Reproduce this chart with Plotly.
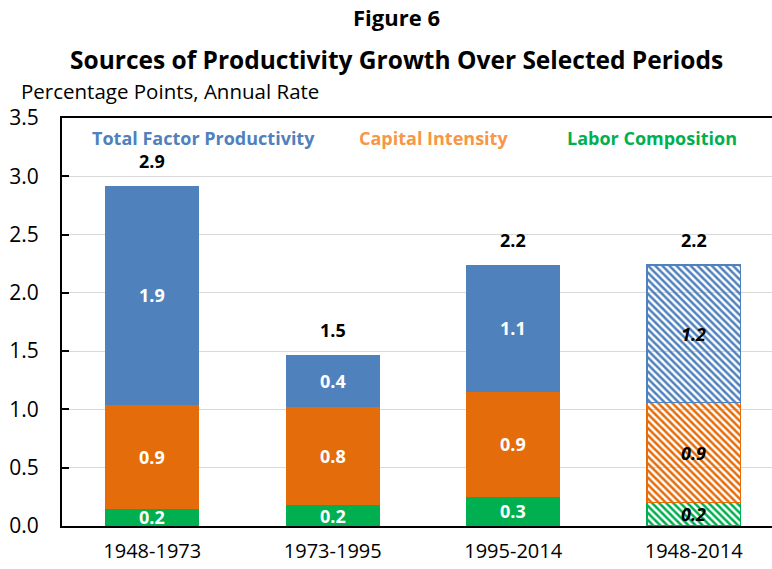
import plotly.graph_objects as go

periods = ["1948-1973", "1973-1995", "1995-2014", "1948-2014"]
labor = [0.15, 0.18, 0.25, 0.20]
capital = [0.89, 0.84, 0.90, 0.86]
tfp = [1.88, 0.45, 1.09, 1.18]
labor_lbl = ["0.2", "0.2", "0.3", "0.2"]
capital_lbl = ["0.9", "0.8", "0.9", "0.9"]
tfp_lbl = ["1.9", "0.4", "1.1", "1.2"]
total_lbl = ["2.9", "1.5", "2.2", "2.2"]
series_names = ["Labor Composition", "Capital Intensity", "Total Factor Productivity"]

FONT = "Open Sans"
colors = ["#00B050", "#E46C0A", "#4F81BD"]
hatched = [False, False, False, True]

# plot area in pixels
L, R, T, B = 62, 772, 118, 526
W, H = R - L, B - T


def px(x):
    return (x - L) / W


def py(y):
    return (B - y) / H


fig = go.Figure()
series = [labor, capital, tfp]
labels = [labor_lbl, capital_lbl, tfp_lbl]
for name, vals, col in zip(series_names, series, colors):
    fig.add_trace(go.Bar(
        x=periods, y=vals, name=name, width=0.52,
        marker=dict(
            color=[col] * len(periods),
            line=dict(color=col, width=[1.5 if h else 0 for h in hatched]),
            pattern=dict(shape=["\\" if h else "" for h in hatched], fillmode="replace",
                         fgcolor=[col] * len(periods), bgcolor=["white"] * len(periods),
                         fgopacity=1, size=5, solidity=0.5),
        ),
        hoverinfo="skip", showlegend=False,
    ))

annotations = []
base = [0.0] * len(periods)
for vals, lbls in zip(series, labels):
    for i, (v, l) in enumerate(zip(vals, lbls)):
        mid = base[i] + v / 2
        annotations.append(dict(
            x=periods[i], y=mid, xref="x", yref="y",
            text=f"<b><i>{l}</i></b>" if hatched[i] else f"<b>{l}</b>",
            showarrow=False, font=dict(family=FONT, size=18, color="black" if hatched[i] else "white")))
        base[i] += v
for i, t in enumerate(total_lbl):
    annotations.append(dict(x=periods[i], y=base[i], xref="x", yref="y", text=f"<b>{t}</b>",
                            showarrow=False, yshift=25, font=dict(family=FONT, size=18, color="black")))

leg_x = [203, 433, 652]
for name, col, x in zip(["Total Factor Productivity", "Capital Intensity", "Labor Composition"],
                        ["#4F81BD", "#F79646", "#00B050"], leg_x):
    annotations.append(dict(x=px(x), y=py(138), xref="paper", yref="paper", text=f"<b>{name}</b>",
                            showarrow=False, xanchor="center", yanchor="middle",
                            font=dict(family=FONT, size=18, color=col)))

annotations.append(dict(x=px(396), y=py(17), xref="paper", yref="paper", text="<b>Figure 6</b>",
                        showarrow=False, xanchor="center", yanchor="middle",
                        font=dict(family=FONT, size=22, color="black")))
annotations.append(dict(x=px(396), y=py(59), xref="paper", yref="paper",
                        text="<b>Sources of Productivity Growth Over Selected Periods</b>",
                        showarrow=False, xanchor="center", yanchor="middle",
                        font=dict(family=FONT, size=24.5, color="black")))
annotations.append(dict(x=px(19), y=py(91), xref="paper", yref="paper",
                        text="Percentage Points, Annual Rate",
                        showarrow=False, xanchor="left", yanchor="middle",
                        font=dict(family=FONT, size=20.5, color="black")))

fig.update_layout(
    width=772, height=569, barmode="stack",
    margin=dict(l=L, r=772 - R, t=T, b=569 - B),
    paper_bgcolor="white", plot_bgcolor="white",
    font=dict(family=FONT, size=20, color="black"),
    annotations=annotations,
    xaxis=dict(range=[-0.5, 3.434], showline=True, linecolor="black", linewidth=2, mirror=True,
               ticks="", ticklabelstandoff=6, tickfont=dict(family=FONT, size=20)),
    yaxis=dict(range=[0, 3.5], dtick=0.5, tickformat=".1f", showline=True, linecolor="black", linewidth=2,
               ticks="inside", ticklen=7, tickcolor="black", tickwidth=1.5, ticklabelstandoff=17,
               showgrid=True, gridcolor="#D9D9D9",
               zeroline=False, tickfont=dict(family=FONT, size=21)),
)
fig.write_html("out.html", config={"displayModeBar": False},
               post_script="document.body.style.margin='0';")
